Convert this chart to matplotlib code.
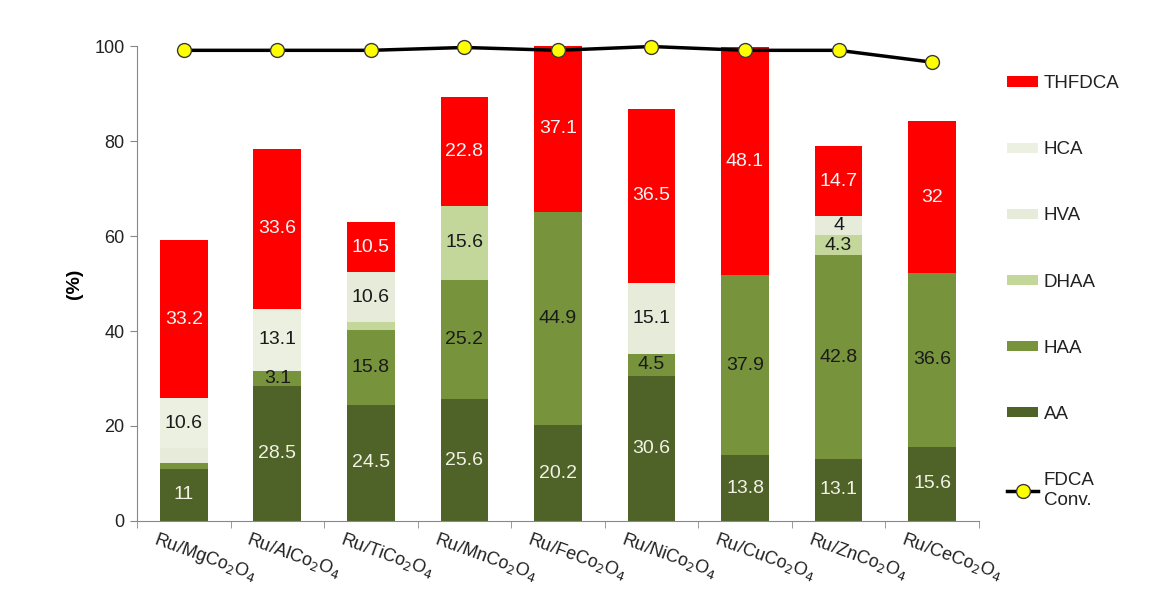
import numpy as np
import matplotlib
matplotlib.use('Agg')
import matplotlib.pyplot as plt
import matplotlib.transforms as mtransforms

plt.rcParams['font.family'] = ['Liberation Sans', 'DejaVu Sans']

# catalysts
catalysts = ['Ru/MgCo$_2$O$_4$', 'Ru/AlCo$_2$O$_4$', 'Ru/TiCo$_2$O$_4$', 'Ru/MnCo$_2$O$_4$',
             'Ru/FeCo$_2$O$_4$', 'Ru/NiCo$_2$O$_4$', 'Ru/CuCo$_2$O$_4$', 'Ru/ZnCo$_2$O$_4$',
             'Ru/CeCo$_2$O$_4$']

# product yields (%), bottom to top
AA = [11, 28.5, 24.5, 25.6, 20.2, 30.6, 13.8, 13.1, 15.6]
HAA = [1.2, 3.1, 15.8, 25.2, 44.9, 4.5, 37.9, 42.8, 36.6]
DHAA = [0, 0, 1.5, 15.6, 0, 0, 0, 4.3, 0]
HVA = [3.1, 0, 10.6, 0, 0, 15.1, 0, 4, 0]
HCA = [10.6, 13.1, 0, 0, 0, 0, 0, 0, 0]
THFDCA = [33.2, 33.6, 10.5, 22.8, 37.1, 36.5, 48.1, 14.7, 32]
fdca_conv = [99.1, 99.1, 99.1, 99.7, 99.1, 99.9, 99.1, 99.1, 96.6]

# which segments carry printed labels
label_AA = [1, 1, 1, 1, 1, 1, 1, 1, 1]
label_HAA = [0, 1, 1, 1, 1, 1, 1, 1, 1]
label_DHAA = [0, 0, 0, 1, 0, 0, 0, 1, 0]
label_HVA = [0, 0, 1, 0, 0, 1, 0, 1, 0]
label_HCA = [1, 1, 0, 0, 0, 0, 0, 0, 0]
label_THF = [1, 1, 1, 1, 1, 1, 1, 1, 1]

series = [
    ('AA', AA, '#4F6228', '#F2F2E6', label_AA),
    ('HAA', HAA, '#77933C', '#1A1A1A', label_HAA),
    ('DHAA', DHAA, '#C4D79B', '#1A1A1A', label_DHAA),
    ('HVA', HVA, '#E6EBDA', '#1A1A1A', label_HVA),
    ('HCA', HCA, '#EBF0E0', '#1A1A1A', label_HCA),
    ('THFDCA', THFDCA, '#FF0000', '#F5F5F5', label_THF),
]

fig = plt.figure(figsize=(11.75, 6.14), dpi=100)
ax = fig.add_axes([0.1166, 0.1515, 0.7165, 0.7735])

x = np.arange(len(catalysts))
bottom = np.zeros(len(catalysts))
handles = {}
for name, vals, color, tcolor, labs in series:
    vals = np.array(vals, dtype=float)
    b = ax.bar(x, vals, 0.51, bottom=bottom, color=color, edgecolor='none', zorder=2)
    handles[name] = b
    for i in range(len(x)):
        if labs[i]:
            # keep the label inside the visible (clipped at 100) part of the bar
            yc = min(bottom[i] + vals[i] / 2, bottom[i] + (100 - bottom[i]) / 2)
            ax.text(x[i], yc, f'{vals[i]:g}', ha='center', va='center',
                    fontsize=14, color=tcolor, zorder=3)
    bottom += vals

line, = ax.plot(x, fdca_conv, color='black', lw=2.5, marker='o', ms=10,
                mfc='#FFFF00', mec='#3a3a3a', mew=1, zorder=4, clip_on=False)

ax.set_xlim(-0.5, len(x) - 0.5)
ax.set_ylim(0, 100)
ax.set_yticks([0, 20, 40, 60, 80, 100])
ax.tick_params(axis='y', labelsize=13, length=5, color='#888888', pad=4, labelcolor='#222222')
ax.set_ylabel('(%)', fontsize=14, fontweight='bold', labelpad=8)

ax.set_xticks(x)
ax.set_xticks(np.arange(len(x) + 1) - 0.5, minor=True)
ax.tick_params(axis='x', which='major', length=0, pad=6, labelcolor='#222222')
ax.tick_params(axis='x', which='minor', length=5, color='#888888')
ax.set_xticklabels(catalysts, rotation=-20, ha='left', rotation_mode='anchor', fontsize=13)
offset = mtransforms.ScaledTranslation(-0.26, 0, fig.dpi_scale_trans)
for lab in ax.get_xticklabels():
    lab.set_transform(lab.get_transform() + offset)

for s in ['top', 'right']:
    ax.spines[s].set_visible(False)
for s in ['left', 'bottom']:
    ax.spines[s].set_color('#888888')

order = ['THFDCA', 'HCA', 'HVA', 'DHAA', 'HAA', 'AA']
leg = fig.legend([handles[n] for n in order] + [line], order + ['FDCA\nConv.'],
                 loc='upper left', bbox_to_anchor=(0.843, 0.905), frameon=False,
                 fontsize=13.5, labelspacing=2.62, handlelength=1.65, handleheight=0.45,
                 handletextpad=0.3, labelcolor='#222222')

fig.savefig('out.png', dpi=100)
